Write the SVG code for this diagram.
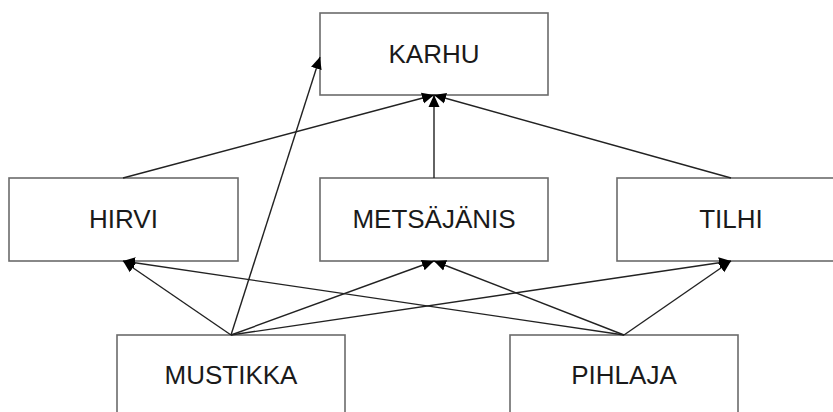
<svg xmlns="http://www.w3.org/2000/svg" width="833" height="412" viewBox="0 0 833 412">
<style>
.box{fill:#fff;stroke:#6b6b6b;stroke-width:1.6}
.lbl{font-family:"Liberation Sans",Arial,sans-serif;font-size:26px;fill:#1a1a1a;text-anchor:middle}
.edge{stroke:#222;stroke-width:1.4;fill:none;marker-end:url(#arr)}
</style>
<defs>
<marker id="arr" markerUnits="userSpaceOnUse" markerWidth="13" markerHeight="13" viewBox="0 0 13 13" refX="12" refY="6.5" orient="auto">
<path d="M0,1 L12,6.5 L0,12 Z" fill="#000"/>
</marker>
</defs>
<rect width="833" height="412" fill="#fff"/>
<g id="nodes">
<g id="karhu"><rect class="box" x="320" y="13" width="228" height="82"/><text class="lbl" x="434" y="63">KARHU</text></g>
<g id="hirvi"><rect class="box" x="9" y="178" width="229" height="83"/><text class="lbl" x="123.5" y="228">HIRVI</text></g>
<g id="metsajanis"><rect class="box" x="320" y="178" width="228" height="83"/><text class="lbl" x="434" y="228">METSÄJÄNIS</text></g>
<g id="tilhi"><rect class="box" x="617" y="178" width="228" height="83"/><text class="lbl" x="731" y="228">TILHI</text></g>
<g id="mustikka"><rect class="box" x="117" y="335" width="228" height="90"/><text class="lbl" x="231" y="384">MUSTIKKA</text></g>
<g id="pihlaja"><rect class="box" x="510" y="335" width="228" height="90"/><text class="lbl" x="624" y="384">PIHLAJA</text></g>
</g>
<g id="connectors">
<line class="edge" x1="123" y1="178" x2="434" y2="95"/>
<line class="edge" x1="434" y1="178" x2="434" y2="95"/>
<line class="edge" x1="731" y1="178" x2="434" y2="95"/>
<line class="edge" x1="231" y1="335" x2="320" y2="57"/>
<line class="edge" x1="231" y1="335" x2="123" y2="261"/>
<line class="edge" x1="231" y1="335" x2="434" y2="261"/>
<line class="edge" x1="231" y1="335" x2="731" y2="261"/>
<line class="edge" x1="624" y1="335" x2="123" y2="261"/>
<line class="edge" x1="624" y1="335" x2="434" y2="261"/>
<line class="edge" x1="624" y1="335" x2="731" y2="261"/>
</g>
</svg>
